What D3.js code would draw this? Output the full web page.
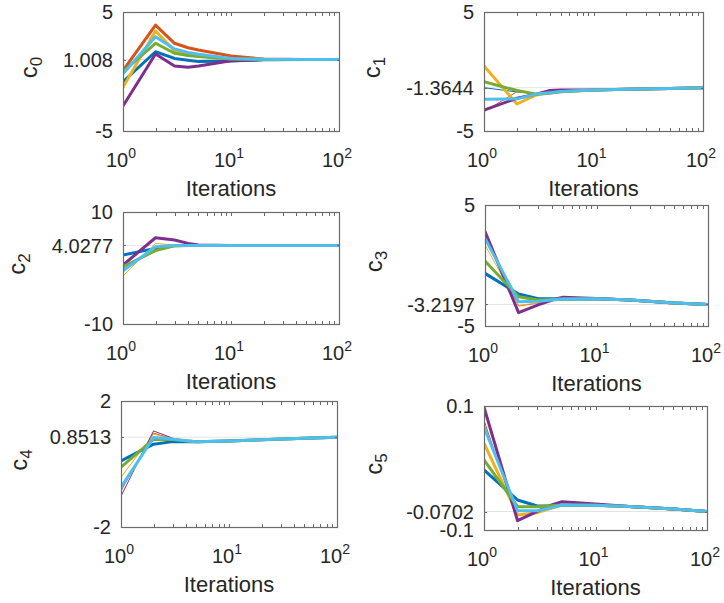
<!DOCTYPE html>
<html>
<head>
<meta charset="utf-8">
<script src="https://cdn.jsdelivr.net/npm/d3@7"></script>
<style>
body { margin: 0; background: #fff; }
text { font-family: "Liberation Sans", Arial, Helvetica, sans-serif; fill: #262626; }
</style>
</head>
<body>
<div id="target"></div>
<script>
// iteration counts where the coefficients were sampled
const iterations = [1, 2, 3, 4, 5, 10, 20, 50, 100]
const seriesColors = ["#0072BD", "#D95319", "#EDB120", "#7E2F8E", "#77AC30", "#4DBEEE"]

// coefficient names and their y ticks (min, final value, max)
const coefNames = ["0", "1", "2", "3", "4", "5"]
const yTicks = [
    [-5, 1.008, 5],
    [-5, -1.3644, 5],
    [-10, 4.0277, 10],
    [-5, -3.2197, 5],
    [-2, 0.8513, 2],
    [-0.1, -0.0702, 0.1]
]
const yTickLabels = [
    ["-5", "1.008", "5"],
    ["-5", "-1.3644", "5"],
    ["-10", "4.0277", "10"],
    ["-5", "-3.2197", "5"],
    ["-2", "0.8513", "2"],
    ["-0.1", "-0.0702", "0.1"]
]

// series values, order: blue, orange, yellow, purple, green, cyan
const c0 = [
    [-0.86, 1.66, 1.10, 0.95, 0.83, 0.88, 0.98, 1.008, 1.008],
    [0.07, 3.90, 2.37, 2.00, 1.80, 1.30, 1.05, 1.008, 1.008],
    [-1.33, 3.40, 1.75, 1.45, 1.30, 1.05, 1.01, 1.008, 1.008],
    [-2.90, 1.47, 0.46, 0.35, 0.46, 0.90, 1.00, 1.008, 1.008],
    [0.00, 2.37, 1.53, 1.35, 1.25, 1.05, 1.01, 1.008, 1.008],
    [-0.20, 2.92, 1.90, 1.60, 1.45, 1.10, 1.02, 1.008, 1.008]
]
const c1 = [
    [-1.36, -1.72, -1.85, -1.75, -1.65, -1.55, -1.50, -1.43, -1.3644],
    [-3.38, -1.70, -1.85, -1.70, -1.65, -1.55, -1.50, -1.43, -1.3644],
    [0.46, -2.73, -1.97, -1.80, -1.70, -1.55, -1.50, -1.43, -1.3644],
    [-3.24, -2.25, -1.90, -1.60, -1.55, -1.55, -1.50, -1.43, -1.3644],
    [-0.86, -1.60, -1.90, -1.80, -1.70, -1.55, -1.50, -1.43, -1.3644],
    [-2.34, -2.30, -1.90, -1.78, -1.68, -1.55, -1.50, -1.43, -1.3644]
]
const c2 = [
    [2.32, 3.50, 4.00, 4.03, 4.03, 4.03, 4.03, 4.03, 4.0277],
    [-0.20, 3.50, 4.00, 4.03, 4.03, 4.03, 4.03, 4.03, 4.0277],
    [-1.43, 4.40, 4.10, 4.05, 4.03, 4.03, 4.03, 4.03, 4.0277],
    [0.54, 5.40, 5.00, 4.40, 4.10, 4.03, 4.03, 4.03, 4.0277],
    [0.24, 3.10, 3.95, 4.00, 4.03, 4.03, 4.03, 4.03, 4.0277],
    [-0.48, 3.80, 4.00, 4.03, 4.03, 4.03, 4.03, 4.03, 4.0277]
]
const c3 = [
    [-0.65, -2.36, -2.75, -2.75, -2.77, -2.75, -2.85, -3.10, -3.2197],
    [2.50, -3.35, -3.10, -2.90, -2.77, -2.75, -2.85, -3.10, -3.2197],
    [1.70, -3.30, -3.10, -2.90, -2.77, -2.75, -2.85, -3.10, -3.2197],
    [2.80, -3.90, -3.26, -2.85, -2.63, -2.72, -2.85, -3.10, -3.2197],
    [0.37, -2.58, -2.85, -2.80, -2.77, -2.75, -2.85, -3.10, -3.2197],
    [2.25, -3.00, -2.95, -2.85, -2.77, -2.75, -2.85, -3.10, -3.2197]
]
const c4 = [
    [0.10, 0.63, 0.71, 0.71, 0.71, 0.73, 0.77, 0.82, 0.8513],
    [-0.85, 0.98, 0.80, 0.74, 0.71, 0.73, 0.77, 0.82, 0.8513],
    [-0.42, 0.95, 0.79, 0.74, 0.71, 0.73, 0.77, 0.82, 0.8513],
    [-1.02, 1.05, 0.82, 0.74, 0.71, 0.73, 0.77, 0.82, 0.8513],
    [-0.10, 0.78, 0.78, 0.74, 0.71, 0.73, 0.77, 0.82, 0.8513],
    [-0.74, 0.84, 0.79, 0.74, 0.71, 0.73, 0.77, 0.82, 0.8513]
]
const c5 = [
    [-0.003, -0.0516, -0.0613, -0.0610, -0.0597, -0.0600, -0.0620, -0.0660, -0.0702],
    [0.077, -0.0840, -0.0720, -0.0650, -0.0597, -0.0600, -0.0620, -0.0660, -0.0702],
    [0.040, -0.0758, -0.0720, -0.0650, -0.0597, -0.0600, -0.0620, -0.0660, -0.0702],
    [0.098, -0.0850, -0.0700, -0.0600, -0.0543, -0.0580, -0.0620, -0.0660, -0.0702],
    [0.013, -0.0624, -0.0624, -0.0610, -0.0597, -0.0600, -0.0620, -0.0660, -0.0702],
    [0.066, -0.0690, -0.0690, -0.0640, -0.0597, -0.0600, -0.0620, -0.0660, -0.0702]
]
const coefData = [c0, c1, c2, c3, c4, c5]

// axes boxes in pixels and the line widths of each series
const layout = [
    { left: 123, right: 339, top: 12, bottom: 131, labelX: 37, widths: [3, 3, 3, 3, 3, 3] },
    { left: 484, right: 703, top: 12, bottom: 131, labelX: 380, widths: [1, 1, 3, 3, 3, 3] },
    { left: 123, right: 339, top: 212, bottom: 324, labelX: 25, widths: [3, 1, 1, 3, 3, 3] },
    { left: 485, right: 708, top: 205, bottom: 326, labelX: 382, widths: [3, 1, 1, 3, 3, 3] },
    { left: 121, right: 337, top: 401, bottom: 527, labelX: 27, widths: [3, 1, 1, 1, 3, 3] },
    { left: 484, right: 707, top: 406, bottom: 530, labelX: 382, widths: [3, 1, 3, 3, 3, 3] }
]

const tickLen = 3
const axisColor = "#262626"
const boxColor = "#6b6b6b"

let svg = d3.select("#target").append("svg").attr("width", 724).attr("height", 603)

let makePanel = (k) => {
    let box = layout[k]
    let ticks = yTicks[k]
    let xscale = d3.scaleLog().domain([1, 100]).range([box.left, box.right])
    let yscale = d3.scaleLinear().domain([ticks[0], ticks[2]]).range([box.bottom, box.top])
    let g = svg.append("g")

    let clipId = "clip" + k
    g.append("clipPath").attr("id", clipId).append("rect")
        .attr("x", box.left).attr("y", box.top)
        .attr("width", box.right - box.left).attr("height", box.bottom - box.top)

    // grid line at the converged value
    g.append("line")
        .attr("x1", box.left).attr("x2", box.right)
        .attr("y1", yscale(ticks[1])).attr("y2", yscale(ticks[1]))
        .attr("stroke", "#e3e3e3").attr("stroke-width", 1)

    let line = d3.line().x((d, i) => xscale(iterations[i])).y(d => yscale(d))
    g.append("g").attr("clip-path", `url(#${clipId})`)
        .selectAll("path").data(coefData[k]).enter().append("path")
        .attr("d", d => line(d))
        .attr("fill", "none")
        .attr("stroke", (d, i) => seriesColors[i])
        .attr("stroke-width", (d, i) => box.widths[i])
        .attr("stroke-linejoin", "round")

    // box
    g.append("rect")
        .attr("x", box.left + 0.5).attr("y", box.top + 0.5)
        .attr("width", box.right - box.left).attr("height", box.bottom - box.top)
        .attr("fill", "none").attr("stroke", boxColor).attr("stroke-width", 1.2)

    // x ticks, major and minor, top and bottom
    let xt = []
    for (let dec of [1, 10]) for (let m = 1; m < 10; m++) xt.push(dec * m)
    xt.push(100)
    g.selectAll("line.xt").data(xt).enter().append("line")
        .attr("x1", d => Math.round(xscale(d)) + 0.5).attr("x2", d => Math.round(xscale(d)) + 0.5)
        .attr("y1", box.bottom).attr("y2", box.bottom - tickLen)
        .attr("stroke", boxColor)
    g.selectAll("line.xt2").data(xt).enter().append("line")
        .attr("x1", d => Math.round(xscale(d)) + 0.5).attr("x2", d => Math.round(xscale(d)) + 0.5)
        .attr("y1", box.top + 1).attr("y2", box.top + 1 + tickLen)
        .attr("stroke", boxColor)

    // y ticks left and right
    g.selectAll("line.yt").data(ticks).enter().append("line")
        .attr("x1", box.left).attr("x2", box.left + tickLen)
        .attr("y1", d => Math.round(yscale(d)) + 0.5).attr("y2", d => Math.round(yscale(d)) + 0.5)
        .attr("stroke", boxColor)
    g.selectAll("line.yt2").data(ticks).enter().append("line")
        .attr("x1", box.right + 1).attr("x2", box.right + 1 - tickLen)
        .attr("y1", d => Math.round(yscale(d)) + 0.5).attr("y2", d => Math.round(yscale(d)) + 0.5)
        .attr("stroke", boxColor)

    // y tick labels
    g.selectAll("text.yl").data(ticks).enter().append("text")
        .attr("x", box.left - 10).attr("y", d => yscale(d))
        .attr("dy", "0.36em")
        .attr("text-anchor", "end")
        .style("font-size", "20px")
        .text((d, i) => yTickLabels[k][i])

    // x tick labels 10^n
    let xl = g.selectAll("text.xl").data([0, 1, 2]).enter().append("text")
        .attr("x", d => xscale(Math.pow(10, d)) - 2)
        .attr("y", box.bottom + 36)
        .attr("text-anchor", "middle")
        .style("font-size", "20px")
    xl.append("tspan").text("10")
    xl.append("tspan").attr("dy", -9).style("font-size", "14px").text(d => d)

    // axis labels
    g.append("text")
        .attr("x", (box.left + box.right) / 2)
        .attr("y", box.bottom + 65)
        .attr("text-anchor", "middle")
        .style("font-size", "22px")
        .text("Iterations")

    let yl = g.append("text")
        .attr("transform", `translate(${box.labelX},${(box.top + box.bottom) / 2 - 4}) rotate(-90)`)
        .attr("text-anchor", "middle")
        .style("font-size", "24px")
    yl.append("tspan").text("c")
    yl.append("tspan").attr("dy", 5).style("font-size", "17px").text(coefNames[k])
}

for (let k = 0; k < 6; k++) makePanel(k)
</script>
</body>
</html>
